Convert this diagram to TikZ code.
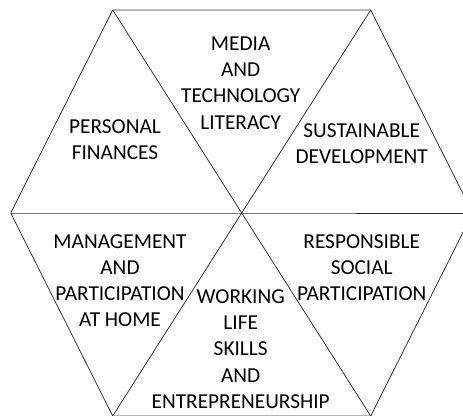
\documentclass[tikz,border=0pt]{standalone}
\usepackage{fontspec}
\setmainfont{Carlito}
\usetikzlibrary{calc}
\definecolor{dgray}{rgb}{0.2,0.2,0.2}
\newcommand{\lblfont}{\fontsize{21.3}{26.2}\selectfont}
\tikzset{
  lbl/.style={align=center,font=\lblfont,text=black,inner sep=0pt},
  hexline/.style={draw=dgray,line width=0.8pt}
}

\begin{document}
\begin{tikzpicture}[x=1pt,y=1pt]
\useasboundingbox (0,0) rectangle (463,415);
\clip (0,0) rectangle (463,415);

% corners of the hexagon
\coordinate (c) at (241.7,202);
\coordinate (tl) at (112.7,405);
\coordinate (tr) at (370.7,405);
\coordinate (l) at (10.7,202);
\coordinate (r) at (472.7,202);
\coordinate (bl) at (112.7,-1);
\coordinate (br) at (370.7,-1);

% outline
\draw[hexline] (tl) -- (tr) -- (r) -- (br) -- (bl) -- (l) -- cycle;
% diagonals through the centre
\draw[hexline] (tl) -- (c) -- (br);
\draw[hexline] (tr) -- (c) -- (bl);
\draw[hexline] (l) -- (c) -- (r);

% labels
\node[lbl] (media) at (240.7,332) {MEDIA\\AND\\TECHNOLOGY\\LITERACY};
\node[lbl] (finances) at (115,275) {PERSONAL\\FINANCES};
\node[lbl] (sustain) at (361.7,271.5) {SUSTAINABLE\\DEVELOPMENT};
\node[lbl] (home) at (120,134.5) {MANAGEMENT\\AND\\PARTICIPATION\\AT HOME};
\node[lbl] (social) at (361.7,147.3) {RESPONSIBLE\\SOCIAL\\PARTICIPATION};
\node[lbl] (working) at (240.7,66) {WORKING\\LIFE\\SKILLS\\AND\\ENTREPRENEURSHIP};
\end{tikzpicture}
\end{document}
